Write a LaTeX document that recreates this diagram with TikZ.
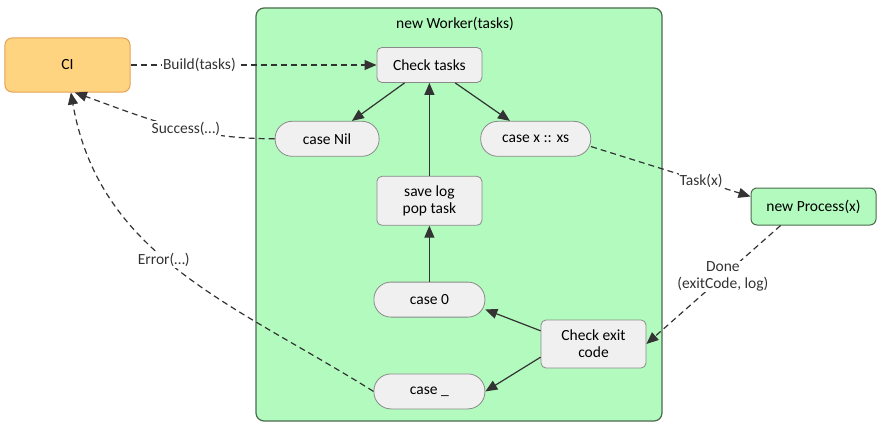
\documentclass[tikz,border=0pt]{standalone}
\usepackage{fontspec}
\setmainfont{Carlito}
\usepackage{tikz}
\usetikzlibrary{arrows.meta, positioning}
\definecolor{ciFill}{RGB}{255, 212, 128}
\definecolor{ciDraw}{RGB}{230, 162, 86}
\definecolor{workerFill}{RGB}{178, 250, 190}
\definecolor{workerDraw}{RGB}{74, 106, 78}
\definecolor{stepFill}{RGB}{240, 240, 240}
\definecolor{stepDraw}{RGB}{138, 138, 138}
\definecolor{lineColor}{RGB}{51, 51, 51}

\begin{document}
\begin{tikzpicture}[
    x=1bp, y=1bp,
    every node/.style={font=\fontsize{15.5bp}{17bp}\selectfont},
    box/.style={rectangle, rounded corners=5bp, draw=stepDraw, line width=0.8bp, fill=stepFill, minimum width=105bp, align=center, inner sep=2bp},
    pill/.style={rectangle, rounded corners=17bp, draw=stepDraw, line width=0.8bp, fill=stepFill, minimum height=35bp, inner sep=2bp},
    ci/.style={rectangle, rounded corners=7bp, draw=ciDraw, line width=1bp, fill=ciFill, minimum width=125bp, minimum height=54bp},
    worker/.style={rectangle, rounded corners=8bp, draw=workerDraw, line width=1.2bp, fill=workerFill, minimum width=406bp, minimum height=413bp},
    proc/.style={rectangle, rounded corners=6bp, draw=workerDraw, line width=1bp, fill=workerFill, minimum width=125bp, minimum height=37bp},
    lbl/.style={fill=white, inner sep=1bp},
    solidarrow/.style={-{Triangle[length=12bp, width=10bp]}, line width=1.2bp, lineColor},
    dasharrow/.style={solidarrow, dash pattern=on 6bp off 4bp}
]
    \useasboundingbox (0,0) rectangle (884,431);

    % Worker container
    \node[worker] (worker) at (459,216.5) {};
    \node (wtitle) at (455,407) {new Worker(tasks)};

    % Nodes
    \node[ci] (ci) at (67.5,366) {CI};
    \node[box, minimum height=35bp, right=246bp of ci] (chk) {Check tasks};
    \node[pill, minimum width=104bp, below left=38bp and -3bp of chk] (nil) {case Nil};
    \node[pill, minimum width=110bp, below right=38bp and -2bp of chk] (xs) {case x :: xs};
    \node[box, minimum height=49bp, below=93bp of chk] (save) {save log\\pop task};
    \node[pill, minimum width=111bp, below=56bp of save] (zero) {case 0};
    \node[pill, minimum width=111bp, below=56bp of zero] (other) {case \_};
    \node[box, minimum height=48bp] (exit) at (593.5,87) {Check exit\\code};
    \node[proc] (proc) at (813.5,224.5) {new Process(x)};

    % Arrows
    \draw[solidarrow] (chk) -- (nil);
    \draw[solidarrow] (chk) -- (xs);
    \draw[solidarrow] (save) -- (chk);
    \draw[solidarrow] (zero) -- (save);
    \draw[solidarrow] (exit.166) -- (zero.-10);
    \draw[solidarrow] (exit.-166) -- (other.east);

    % Messages
    \draw[dasharrow] (ci) -- node[lbl, pos=0.28] {Build(tasks)} (chk);
    \draw[dasharrow] (nil.west) to[out=180, in=-20] node[lbl, pos=0.43] {Success(…)} (ci.-75);
    \draw[dasharrow] (other.west) to[out=148, in=-80] node[lbl, pos=0.54, left=-24bp] {Error(…)} (ci.-83);
    \draw[dasharrow] (xs.-8) -- node[lbl, pos=0.69] {Task(x)} (proc.171);
    \draw[dasharrow] (proc.-150) -- node[lbl, pos=0.43, align=center] {Done\\(exitCode, log)} (exit.east);

\end{tikzpicture}
\end{document}
